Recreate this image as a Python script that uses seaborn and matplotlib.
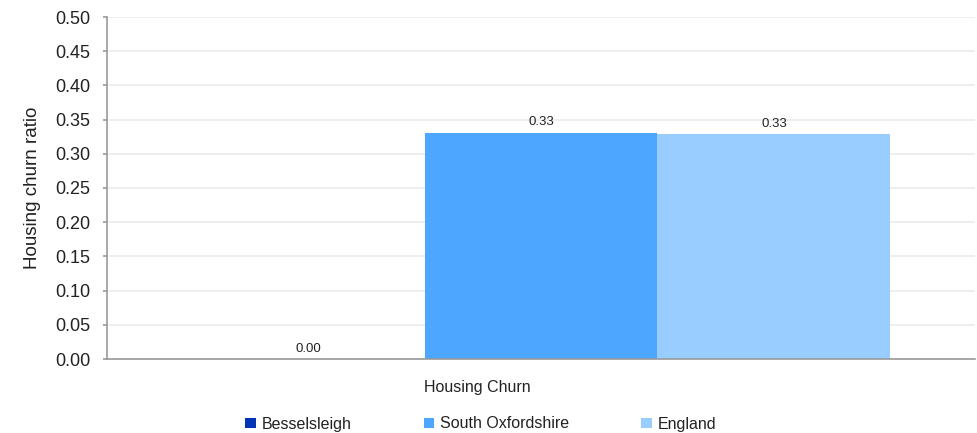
import matplotlib.pyplot as plt
import seaborn as sns
import pandas as pd
from matplotlib.patches import Patch

# chart data
indicator = ['Housing Churn']
areas = ['Besselsleigh', 'South Oxfordshire', 'England']
values = [0.0, 0.331, 0.329]
value_labels = ['0.00', '0.33', '0.33']
colors = ['#0033b5', '#4da6ff', '#99ccff']
y_ticks = [0.0, 0.05, 0.10, 0.15, 0.20, 0.25, 0.30, 0.35, 0.40, 0.45, 0.50]

sns.set_style('white')
plt.rcParams['font.family'] = ['Liberation Sans', 'DejaVu Sans']

df = pd.DataFrame({'indicator': indicator * len(areas), 'area': areas, 'value': values})

fig = plt.figure(figsize=(9.78, 4.33), dpi=100)
ax = fig.add_axes([107 / 978, 74 / 433, 868 / 978, 342 / 433])

sns.barplot(data=df, x='indicator', y='value', hue='area', hue_order=areas,
            palette=colors, width=0.805, saturation=1, legend=False,
            linewidth=0, ax=ax)

""" Value labels above each bar """
for container, lab in zip(ax.containers, value_labels):
    ax.bar_label(container, labels=[lab], padding=3, fontsize=9.5, color='#222222')

ax.set_xlim(-0.5, 0.5)
ax.set_ylim(0, 0.5)
ax.set_yticks(y_ticks)
ax.set_yticklabels([f'{t:.2f}' for t in y_ticks])
ax.set_xticks([])
ax.yaxis.grid(True, color='#ebebeb', linewidth=1.2)
ax.set_axisbelow(True)
for side in ['top', 'right']:
    ax.spines[side].set_visible(False)
for side in ['left', 'bottom']:
    ax.spines[side].set_color('#999999')
    ax.spines[side].set_linewidth(1.2)
ax.tick_params(axis='y', left=True, length=3, width=1.2, color='#999999',
               pad=9, labelsize=13, labelcolor='#222222')

ax.set_ylabel('Housing churn ratio', fontsize=13.5, color='#222222', labelpad=10)
ax.set_xlabel('Housing Churn', fontsize=11.5, color='#222222', labelpad=15)
ax.xaxis.label.set_x((477 - 107) / 868)

""" Legend below the plot """
handles = [Patch(facecolor=c, edgecolor='none') for c in colors]
fig.legend(handles, areas, loc='center', bbox_to_anchor=(481 / 978, 9 / 433),
           ncol=3, frameon=False, fontsize=11.5, handlelength=0.65, handleheight=0.65,
           handletextpad=0.4, columnspacing=4.5, labelcolor='#222222')

fig.savefig('out.png', dpi=100)
